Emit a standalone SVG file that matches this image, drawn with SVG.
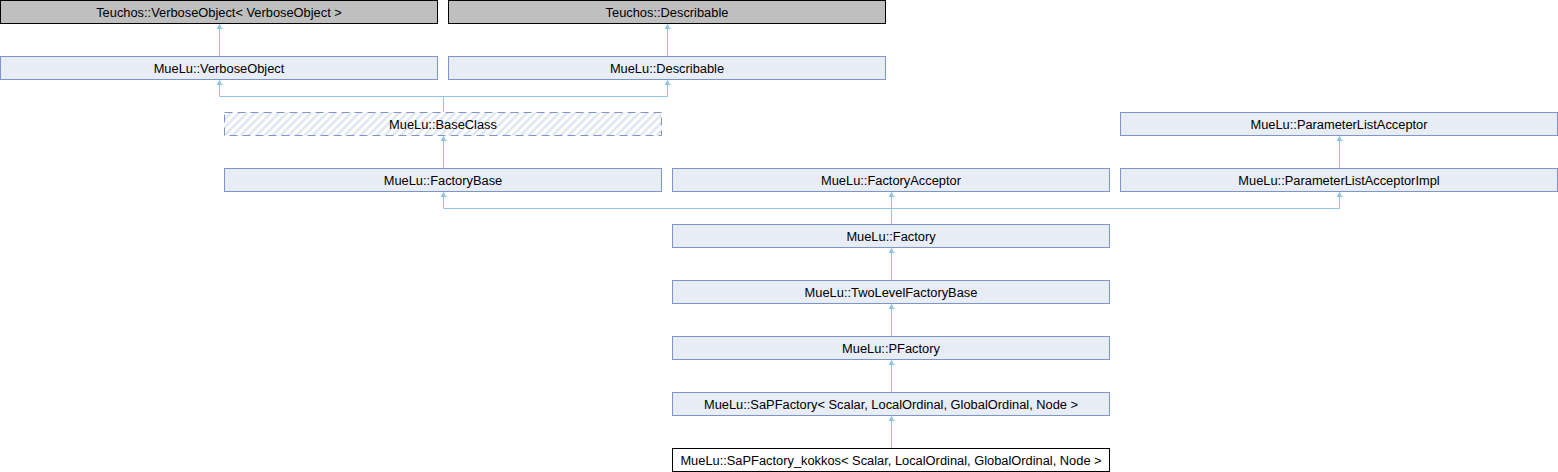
<svg xmlns="http://www.w3.org/2000/svg" width="1558" height="472" viewBox="0 0 1558 472">
<defs>
<style>
.n rect{fill:#e8ecf5;stroke:#7d95c9;stroke-width:1}
.g rect{fill:#bfbfbf;stroke:#000;stroke-width:1}
.k rect{fill:#fff;stroke:#000;stroke-width:1}
.h rect{fill:url(#hatch);stroke:#7d95c9;stroke-width:1;stroke-dasharray:8 5}
text{font-family:"Liberation Sans",Arial,sans-serif;font-size:12.85px;fill:#000;text-anchor:middle}
.c path{fill:none;stroke:#8fc6e4;stroke-width:1}
</style>
<pattern id="hatch" patternUnits="userSpaceOnUse" width="8" height="8">
<rect width="8" height="8" fill="#fff"/>
<path d="M-2,2 L2,-2 M0,8 L8,0 M6,10 L10,6" stroke="#e1e7f1" stroke-width="2.5"/>
</pattern>
<marker id="arr" markerWidth="5" markerHeight="6" refX="5" refY="3" orient="auto" markerUnits="userSpaceOnUse" viewBox="0 0 5 6">
<path d="M0,0 L5,3 L0,6 Z" fill="#8fc6e4"/>
</marker>
</defs>
<g class="c" id="connectors">
<path d="M219.5,56 V24" marker-end="url(#arr)"/>
<path d="M667.5,56 V24" marker-end="url(#arr)"/>
<path d="M443.5,112 V96.5 H219.5 V80" marker-end="url(#arr)"/>
<path d="M443.5,96.5 H667.5 V80" marker-end="url(#arr)"/>
<path d="M443.5,168 V136" marker-end="url(#arr)"/>
<path d="M1339.5,168 V136" marker-end="url(#arr)"/>
<path d="M891.5,224 V208.5 H443.5 V192" marker-end="url(#arr)"/>
<path d="M891.5,208.5 V192" marker-end="url(#arr)"/>
<path d="M891.5,208.5 H1339.5 V192" marker-end="url(#arr)"/>
<path d="M891.5,280 V248" marker-end="url(#arr)"/>
<path d="M891.5,336 V304" marker-end="url(#arr)"/>
<path d="M891.5,392 V360" marker-end="url(#arr)"/>
<path d="M891.5,448 V416" marker-end="url(#arr)"/>
</g>
<g id="teuchos_verbose" class="g"><rect x="0.5" y="0.5" width="437" height="23"/><text x="219" y="16.5">Teuchos::VerboseObject&lt; VerboseObject &gt;</text></g>
<g id="teuchos_describable" class="g"><rect x="448.5" y="0.5" width="437" height="23"/><text x="667" y="16.5">Teuchos::Describable</text></g>
<g id="muelu_verbose" class="n"><rect x="0.5" y="56.5" width="437" height="23"/><text x="219" y="72.5">MueLu::VerboseObject</text></g>
<g id="muelu_describable" class="n"><rect x="448.5" y="56.5" width="437" height="23"/><text x="667" y="72.5">MueLu::Describable</text></g>
<g id="baseclass" class="h"><rect x="224.5" y="112.5" width="437" height="23"/><text x="443" y="128.5">MueLu::BaseClass</text></g>
<g id="plistacceptor" class="n"><rect x="1120.5" y="112.5" width="437" height="23"/><text x="1339" y="128.5">MueLu::ParameterListAcceptor</text></g>
<g id="factorybase" class="n"><rect x="224.5" y="168.5" width="437" height="23"/><text x="443" y="184.5">MueLu::FactoryBase</text></g>
<g id="factoryacceptor" class="n"><rect x="672.5" y="168.5" width="437" height="23"/><text x="891" y="184.5">MueLu::FactoryAcceptor</text></g>
<g id="plistacceptorimpl" class="n"><rect x="1120.5" y="168.5" width="437" height="23"/><text x="1339" y="184.5">MueLu::ParameterListAcceptorImpl</text></g>
<g id="factory" class="n"><rect x="672.5" y="224.5" width="437" height="23"/><text x="891" y="240.5">MueLu::Factory</text></g>
<g id="twolevel" class="n"><rect x="672.5" y="280.5" width="437" height="23"/><text x="891" y="296.5">MueLu::TwoLevelFactoryBase</text></g>
<g id="pfactory" class="n"><rect x="672.5" y="336.5" width="437" height="23"/><text x="891" y="352.5">MueLu::PFactory</text></g>
<g id="sapfactory" class="n"><rect x="672.5" y="392.5" width="437" height="23"/><text x="891" y="408.5">MueLu::SaPFactory&lt; Scalar, LocalOrdinal, GlobalOrdinal, Node &gt;</text></g>
<g id="sapfactory_kokkos" class="k"><rect x="672.5" y="448.5" width="437" height="23"/><text x="891" y="464.5">MueLu::SaPFactory_kokkos&lt; Scalar, LocalOrdinal, GlobalOrdinal, Node &gt;</text></g>
</svg>
